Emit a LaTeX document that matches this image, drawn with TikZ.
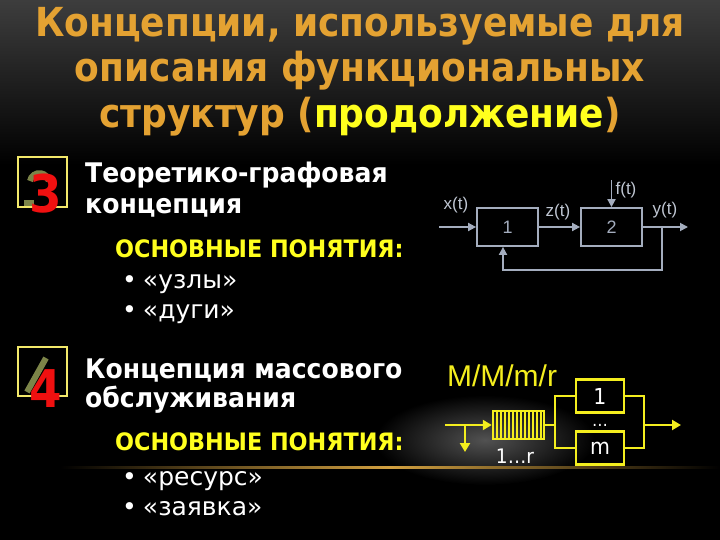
\documentclass[tikz,border=0pt]{standalone}
\usepackage{fontspec}
\setmainfont{DejaVu Sans}
\newfontfamily\condfont[FakeStretch=0.9]{DejaVu Sans}
\newfontfamily\bodyfont[FakeStretch=0.93]{DejaVu Sans}
\newfontfamily\arialfont{Liberation Sans}
\usetikzlibrary{arrows.meta}
\definecolor{titlegold}{HTML}{E4A232}
\definecolor{titleyellow}{HTML}{FFFF1E}
\definecolor{markyellow}{HTML}{F2E86A}
\definecolor{markred}{HTML}{F01010}
\definecolor{markolive}{HTML}{7C8448}
\definecolor{sysgray}{HTML}{A4ADBE}
\definecolor{queueyellow}{HTML}{F4EE1E}
\definecolor{glowgold}{HTML}{D2A040}
\tikzset{
  titletext/.style={inner sep=0, text=titlegold, font=\condfont\bfseries\fontsize{40}{40}\selectfont},
  headtext/.style={inner sep=0, anchor=base west, text=white, font=\bodyfont\bfseries\fontsize{27}{27}\selectfont},
  keytext/.style={inner sep=0, anchor=base west, text=titleyellow, font=\bodyfont\bfseries\fontsize{24}{24}\selectfont},
  itemtext/.style={inner sep=0, anchor=base west, text=white, font=\fontsize{25}{25}\selectfont},
  numbox/.style={draw=markyellow, line width=2.5pt},
  numshadow/.style={draw=markolive, line width=6pt},
  numdigit/.style={inner sep=0, anchor=base, text=markred, font=\condfont\bfseries\fontsize{52}{52}\selectfont},
  blk/.style={draw=sysgray, line width=1.8pt, minimum width=61pt, minimum height=38pt, inner sep=0,
    text=sysgray, font=\arialfont\fontsize{18}{18}\selectfont},
  sig/.style={draw=sysgray, line width=1.8pt, -{Triangle[length=8pt, width=8pt]}},
  siglabel/.style={inner sep=0, text=sysgray!70!white, font=\arialfont\fontsize{17}{17}\selectfont},
  srv/.style={draw=queueyellow, line width=2.5pt, minimum width=48pt, minimum height=33pt, inner sep=0,
    text=white, font=\bodyfont\fontsize{22}{22}\selectfont},
  qline/.style={draw=queueyellow, line width=2.5pt},
  qarrow/.style={draw=queueyellow, line width=2.5pt, -{Triangle[length=9pt, width=10pt]}},
  qlabel/.style={inner sep=0, text=white, font=\bodyfont\fontsize{20}{20}\selectfont}
}
\begin{document}
\begin{tikzpicture}[x=1pt, y=-1pt]
  \useasboundingbox (0,0) rectangle (720,540);
  \fill[black] (0,0) rectangle (720,540);
  \shade[top color=black!76!white, bottom color=black] (0,0) rectangle (720,165);
  \shade[inner color=black!68!white, outer color=black] (485,440) ellipse (110 and 45);
  \shade[left color=black, right color=glowgold] (60,466) rectangle (390,468.5);
  \shade[left color=glowgold, right color=black] (390,466) rectangle (720,468.5);

  \node[titletext, anchor=base] (t1) at (360,37) {Концепции, используемые для};
  \node[titletext, anchor=base] (t2) at (360,82) {описания функциональных};
  \node[titletext, anchor=base] (t3) at (360,128) {структур (\textcolor{titleyellow}{продолжение})};

  \draw[numbox] (18,157) rectangle (67,207);
  \draw[numshadow] (30,181) arc (190:350:9.5);
  \draw[numshadow] (24,203) -- (34,203);
  \node[numdigit] (n3) at (46,213) {3};
  \node[headtext] (h3a) at (85,183) {Теоретико-графовая};
  \node[headtext] (h3b) at (85,214) {концепция};
  \node[keytext] (k3) at (115,258) {ОСНОВНЫЕ ПОНЯТИЯ:};
  \node[itemtext] (i3a) at (122,288) {•\hspace{6pt}«узлы»};
  \node[itemtext] (i3b) at (122,318) {•\hspace{6pt}«дуги»};

  \draw[numbox] (18,347) rectangle (67,396);
  \draw[numshadow] (27,392) -- (46,358);
  \node[numdigit] (n4) at (46,407) {4};
  \node[headtext] (h4a) at (85,378) {Концепция массового};
  \node[headtext] (h4b) at (85,407) {обслуживания};
  \node[keytext] (k4) at (115,450) {ОСНОВНЫЕ ПОНЯТИЯ:};
  \node[itemtext] (i4a) at (122,485) {•\hspace{6pt}«ресурс»};
  \node[itemtext] (i4b) at (122,515) {•\hspace{6pt}«заявка»};

  \node[blk] (b1) at (507.5,227) {1};
  \node[blk] (b2) at (611.5,227) {2};
  \coordinate (xin) at (439,227);
  \coordinate (fin) at (611.5,180);
  \coordinate (yout) at (688,227);
  \coordinate (fbr) at (662,227);
  \coordinate (fbl) at (503,270);
  \draw[sig] (xin) -- (b1.west);
  \draw[sig] (b1.east) -- (b2.west);
  \draw[sig] (fin) -- (b2.north);
  \draw[sig] (b2.east) -- (yout);
  \draw[sig] (fbr) |- (fbl) -- (fbl |- b1.south);
  \node[siglabel] (lx) at (456,205) {x(t)};
  \node[siglabel] (lz) at (558,212) {z(t)};
  \node[siglabel] (lf) at (626,190) {f(t)};
  \node[siglabel] (ly) at (665,210) {y(t)};

  \node[inner sep=0, text=queueyellow, font=\arialfont\fontsize{30}{30}\selectfont] (mm) at (502,376) {M/M/m/r};
  \node[draw=queueyellow, line width=2.5pt, minimum width=51pt, minimum height=28pt, inner sep=0] (qbox) at (518.5,425) {};
  \foreach \x in {497,501,...,541}
    \draw[queueyellow, line width=1.2pt] (\x,411) -- (\x,439);
  \node[qlabel] (lq) at (515,456) {1…r};
  \coordinate (qin) at (445,425);
  \coordinate (qdrop) at (465,425);
  \coordinate (qout) at (465,452);
  \draw[qarrow] (qin) -- (qbox.west);
  \draw[qarrow] (qdrop) -- (qout);
  \node[srv] (s1) at (600,396) {1};
  \node[srv] (sm) at (600,448) {m};
  \node[qlabel, anchor=base, font=\bodyfont\fontsize{17}{17}\selectfont] (dots) at (600,426) {…};
  \coordinate (sl) at (555,425);
  \coordinate (sr) at (644,425);
  \coordinate (sout) at (681,425);
  \draw[qline] (qbox.east) -- (sl);
  \draw[qline] (s1.west) -| (sl) |- (sm.west);
  \draw[qline] (s1.east) -| (sr) |- (sm.east);
  \draw[qarrow] (sr) -- (sout);
\end{tikzpicture}
\end{document}
